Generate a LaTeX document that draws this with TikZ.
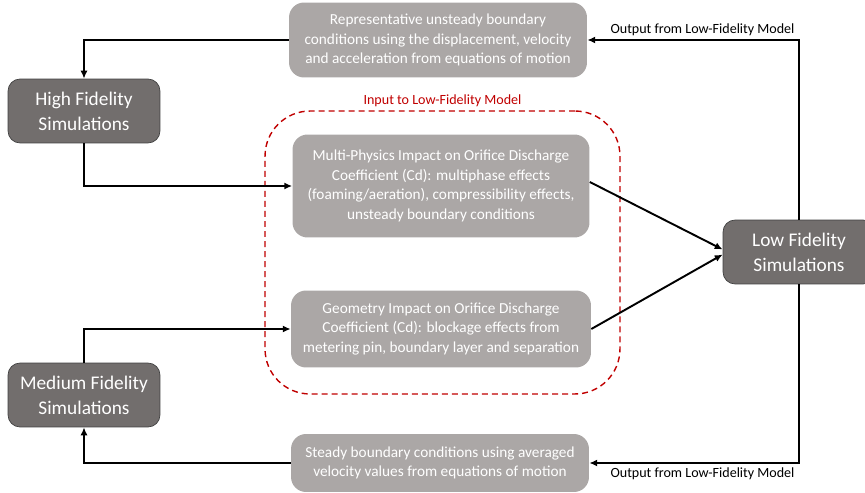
\documentclass[tikz,border=0pt]{standalone}
\usepackage{fontspec}
\setmainfont{Carlito}
\usetikzlibrary{arrows.meta,shapes}
\definecolor{simgray}{RGB}{114,110,109}
\definecolor{infogray}{RGB}{171,167,166}
\definecolor{inred}{RGB}{192,0,0}
\tikzstyle{simbox}=[rectangle,rounded corners=0.24cm,draw=black!75,fill=simgray,text=white,minimum width=3.04cm,minimum height=1.28cm,align=center,font=\fontsize{11}{14.2}\selectfont]
\tikzstyle{infobox}=[rectangle,rounded corners=0.3cm,fill=infogray,text=white,align=center,font=\fontsize{8.7}{11.2}\selectfont]
\tikzstyle{flow}=[-{Latex[length=4.5pt,width=4pt]}, line width=1.1pt]
\tikzstyle{lbl}=[font=\fontsize{8}{9.6}\selectfont,inner sep=2pt]

\begin{document}
\begin{tikzpicture}[x=0.02cm,y=-0.02cm]
\useasboundingbox (0,0) rectangle (865,493);
\node[simbox] (HF) at (84,111) {High Fidelity\\Simulations};
\node[simbox] (MF) at (84,395) {Medium Fidelity\\Simulations};
\node[simbox] (LF) at (799,252) {Low Fidelity\\Simulations};
\node[infobox,minimum width=5.96cm,minimum height=1.5cm] (unsteady) at (438,40) {Representative unsteady boundary\\conditions using the displacement, velocity\\and acceleration from equations of motion};
\node[draw=inred,dashed,dash pattern=on 3.4pt off 2.3pt,line width=0.8pt,rounded corners=0.9cm,minimum width=7.1cm,minimum height=5.66cm] (inputbox) at (442.5,252.5) {};
\node[lbl,text=inred,above] (inputlbl) at (inputbox.north) {Input to Low-Fidelity Model};
\node[infobox,minimum width=5.94cm,minimum height=2.06cm] (physics) at (441,186) {Multi-Physics Impact on Orifice Discharge\\Coefficient (Cd): multiphase effects\\(foaming/aeration), compressibility effects,\\unsteady boundary conditions};
\node[infobox,minimum width=6cm,minimum height=1.54cm] (geom) at (441,329) {Geometry Impact on Orifice Discharge\\Coefficient (Cd): blockage effects from\\metering pin, boundary layer and separation};
\node[infobox,minimum width=5.96cm,minimum height=1.16cm] (steady) at (440,463) {Steady boundary conditions using averaged\\velocity values from equations of motion};
% feedback loops
\draw[flow] (unsteady.west) -| (HF.north);
\draw[flow] (HF.south) |- (physics.west);
\draw[flow] (MF.north) |- (geom.west);
\draw[flow] (steady.west) -| (MF.south);
% inputs to low fidelity
\draw[flow] ([yshift=0.08cm]physics.east) -- ([yshift=0.05cm]LF.west);
\draw[flow] (geom.east) -- ([yshift=-0.05cm]LF.west);
% outputs
\draw[flow] (LF.north) |- (unsteady.east) node[lbl,pos=0.5,above left] (outtop) {Output from Low-Fidelity Model};
\draw[flow] (LF.south) |- (steady.east) node[lbl,pos=0.5,below left] (outbot) {Output from Low-Fidelity Model};
\end{tikzpicture}
\end{document}
